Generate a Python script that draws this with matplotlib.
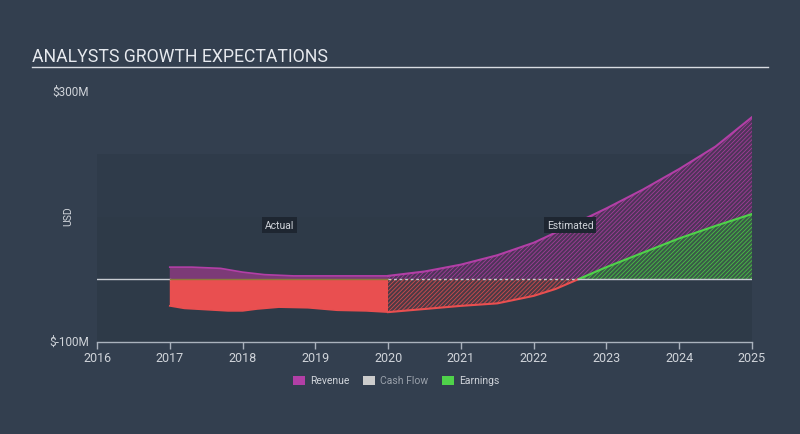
import matplotlib
matplotlib.use("Agg")
import matplotlib.pyplot as plt
from matplotlib.patches import Rectangle
import numpy as np

plt.rcParams['font.family'] = ['Roboto', 'DejaVu Sans']
plt.rcParams['hatch.linewidth'] = 0.6

# ---- data (USD millions) ----
rev_act_x = [2017.0, 2017.3, 2017.7, 2018.0, 2018.3, 2018.7, 2019.0, 2019.5, 2020.0]
rev_act_y = [19, 19, 17, 11, 7, 5, 5, 5, 5]
rev_est_x = [2020.0, 2020.5, 2021.0, 2021.5, 2022.0, 2022.5, 2023.0, 2023.5, 2024.0, 2024.5, 2025.0]
rev_est_y = [5, 12, 23, 38, 58, 85, 113, 143, 176, 212, 259]

earn_act_x = [2017.0, 2017.2, 2017.5, 2017.8, 2018.0, 2018.2, 2018.5, 2018.9, 2019.3, 2019.7, 2020.0]
earn_act_y = [-43, -47, -49, -51, -51, -48, -45, -46, -50, -51, -53]
earn_est_x = [2020.0, 2020.5, 2021.0, 2021.5, 2022.0, 2022.3, 2022.62, 2023.0, 2023.5, 2024.0, 2024.5, 2025.0]
earn_est_y = [-53, -48, -43, -39, -27, -16, 0, 19, 42, 65, 85, 104]

years = list(range(2016, 2026))
ylabels = {300: "$300M", -100: "$-100M"}
title = "ANALYSTS GROWTH EXPECTATIONS"

# ---- colours ----
BG = '#333f4f'
BAND = '#2f3b4a'
BAND2 = '#2e3a48'
REV = '#b23fa6'
REV_FILL = '#7c3a77'
RED = '#e94f50'
GREEN = '#4fd24a'
TXT = '#d0d4da'

fig = plt.figure(figsize=(8, 4.35), dpi=100, facecolor=BG)
ax = fig.add_axes([97/800, 92.5/435, 655/800, 250/435])
ax.set_facecolor('none')
ax.set_xlim(2016, 2025)
ax.set_ylim(-100, 300)

# background bands
ax.add_patch(Rectangle((2016, -100), 9, 100, facecolor=BAND2, edgecolor='none', zorder=0))
ax.add_patch(Rectangle((2016, 0), 9, 100, facecolor=BAND2, edgecolor='none', zorder=0))
ax.add_patch(Rectangle((2016, 100), 9, 100, facecolor=BAND, edgecolor='none', zorder=0))

# actual revenue
ax.fill_between(rev_act_x, 0, rev_act_y, facecolor=REV_FILL, edgecolor='none', zorder=2)
ax.plot(rev_act_x, rev_act_y, color=REV, lw=1.2, zorder=3)
# actual earnings
ax.fill_between(earn_act_x, 0, earn_act_y, facecolor=RED, edgecolor='none', zorder=2)
ax.plot(earn_act_x, earn_act_y, color=RED, lw=1.2, zorder=3)

# estimated revenue
ax.fill_between(rev_est_x, 0, rev_est_y, facecolor='#4e3459', edgecolor='#a23c98',
                hatch='////////', linewidth=0, zorder=2)
ax.plot(rev_est_x, rev_est_y, color=REV, lw=1.5, zorder=4)

# estimated earnings
ex = np.array(earn_est_x, dtype=float)
ey = np.array(earn_est_y, dtype=float)
ax.fill_between(ex, 0, ey, where=ey <= 0, facecolor='#4b3a45', edgecolor='#d04a4c',
                hatch='////////', linewidth=0, zorder=3)
ax.fill_between(ex, 0, ey, where=ey >= 0, facecolor='#3a5a48', edgecolor='#48c044',
                hatch='////////', linewidth=0, zorder=3)
neg = ey <= 0
pos = ey >= 0
ax.plot(ex[neg], ey[neg], color=RED, lw=1.5, zorder=4)
ax.plot(ex[pos], ey[pos], color=GREEN, lw=1.5, zorder=4)

# zero line
ax.plot([2016, 2017], [0, 0], color='#c8ccd2', lw=1, zorder=5)
ax.plot([2017, 2020], [0, 0], color='#8a7a3a', lw=1, zorder=5)
ax.plot([2020, 2022.62], [0, 0], color='#c8ccd2', lw=1, ls=(0, (2, 2)), zorder=5)
ax.plot([2022.62, 2025], [0, 0], color='#c8ccd2', lw=1, zorder=5)

# spines / ticks
for s in ['top', 'right', 'left']:
    ax.spines[s].set_visible(False)
ax.spines['bottom'].set_color('#aab2bd')
ax.spines['bottom'].set_linewidth(1)
ax.set_xticks(years)
ax.set_xticklabels([str(y) for y in years])
ax.tick_params(axis='x', colors='#aab2bd', labelcolor=TXT, labelsize=9, length=5, width=1, pad=2)
ax.set_yticks([])

for v, lab in ylabels.items():
    ax.text(-0.012, v, lab, transform=ax.get_yaxis_transform(), ha='right', va='center',
            color=TXT, fontsize=8.5)

fig.text(68/800, 1 - 216/435, "USD", rotation=90, ha='center', va='center', color=TXT, fontsize=7.5)

# title
fig.text(32/800, 1 - 57/435, title, ha='left', va='center', color='#e6e9ee', fontsize=12.7)
fig.add_artist(plt.Line2D([32/800, 768/800], [1 - 68/435, 1 - 68/435], color='#d8dce2', lw=1))

# labels
box = dict(boxstyle='square,pad=0.3', facecolor='#1e2631', edgecolor='none')
ax.text(2018.51, 86, "Actual", ha='center', va='center', color=TXT, fontsize=7.5, bbox=box, zorder=6)
ax.text(2022.5, 86, "Estimated", ha='center', va='center', color=TXT, fontsize=7.5, bbox=box, zorder=6)

# legend
ly = 1 - 381/435
items = [(REV, "Revenue", TXT, 293), ('#cccccc', "Cash Flow", '#9aa1ab', 363), (GREEN, "Earnings", TXT, 442)]
for col, lab, tcol, x0 in items:
    fig.add_artist(Rectangle((x0/800, ly - 4.5/435), 12/800, 9/435, facecolor=col, edgecolor='none',
                             transform=fig.transFigure))
    fig.text((x0 + 17)/800, ly, lab, ha='left', va='center', color=tcol, fontsize=7.5)

fig.savefig("out.png", dpi=100, facecolor=BG)
